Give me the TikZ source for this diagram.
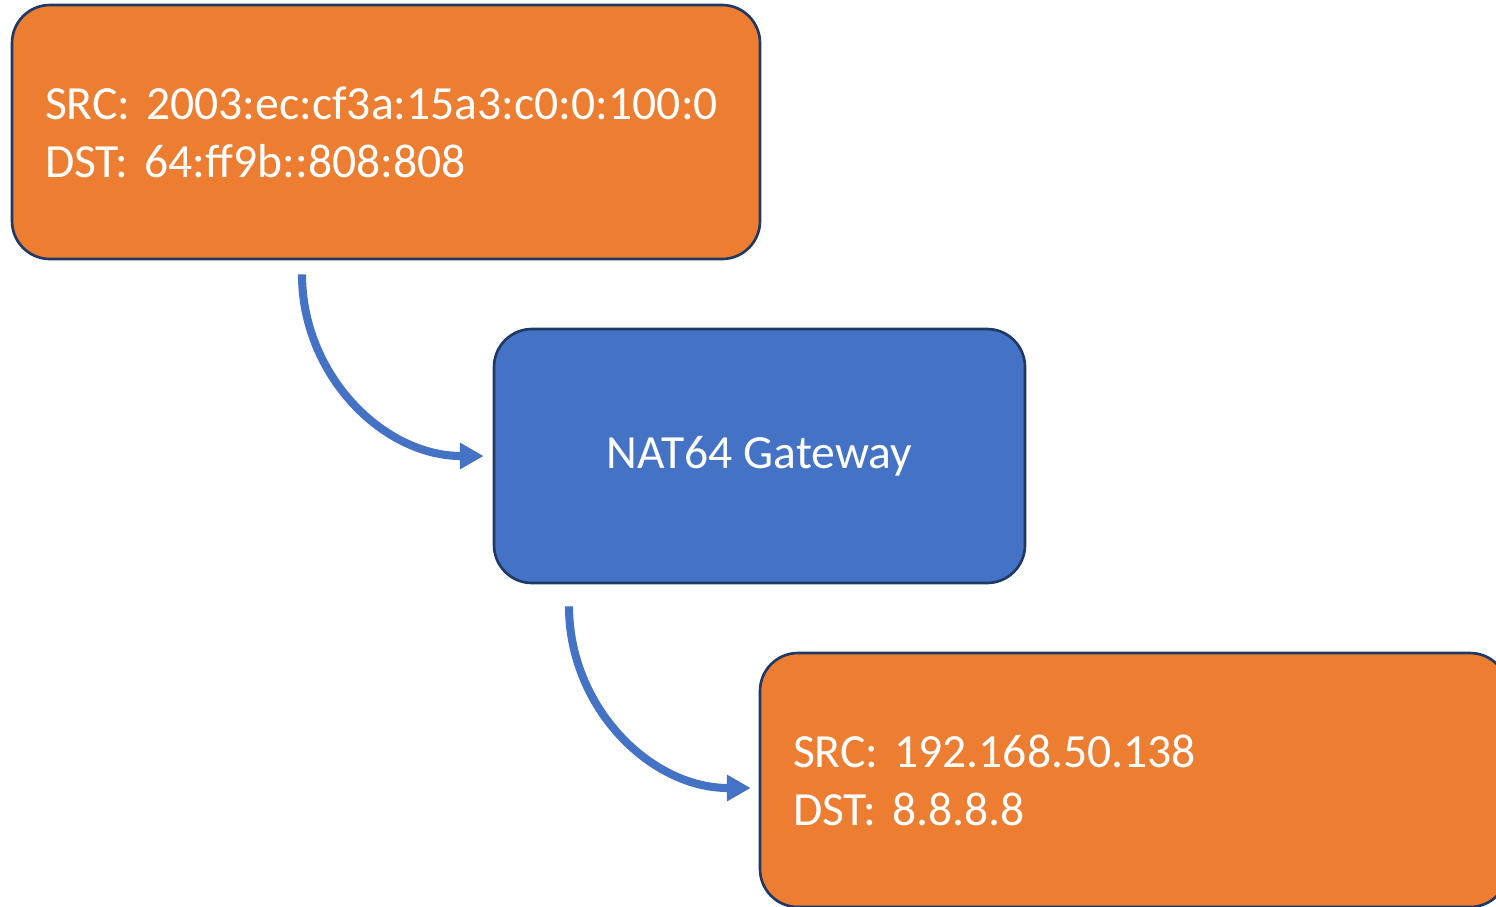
\documentclass[tikz,border=0pt]{standalone}
\usepackage{fontspec}
\setmainfont{Carlito}
\usetikzlibrary{arrows.meta}
\definecolor{boxorange}{HTML}{ED7D31}
\definecolor{boxblue}{HTML}{4472C4}
\definecolor{boxline}{HTML}{1F3864}
\frenchspacing
\begin{document}
\begin{tikzpicture}[
  >={Triangle[length=6.8pt,width=7.2pt]},
  box/.style={draw=boxline, line width=0.75pt, rounded corners=0.38cm,
    minimum height=2.54cm, text=white, font=\fontsize{13.55}{16.5}\selectfont},
  packet/.style={box, fill=boxorange, text width=6.82cm, inner xsep=0.33cm, align=left},
  flow/.style={->, draw=boxblue, line width=2.3pt}
]
  % Page size
  \useasboundingbox (0,0) rectangle (14.96,-9.06);
  \clip (0,0) rectangle (14.96,-9.06);

  % IPv6 packet, gateway, IPv4 packet
  \node[packet] (v6) at (3.86,-1.32) {SRC: 2003:ec:cf3a:15a3:c0:0:100:0\\DST: 64:ff9b::808:808};
  \node[box, fill=boxblue, minimum width=5.31cm] (gw) at (7.595,-4.56) {NAT64 Gateway};
  \node[packet] (v4) at (11.34,-7.80) {SRC: 192.168.50.138\\DST: 8.8.8.8};

  % Curved arrows
  \draw[flow] ([xshift=-0.84cm,yshift=-0.14cm]v6.south) to[out=-90,in=180] ([xshift=-0.09cm]gw.west);
  \draw[flow] ([xshift=-1.905cm,yshift=-0.22cm]gw.south) to[out=-90,in=180] ([xshift=-0.08cm,yshift=-0.08cm]v4.west);
\end{tikzpicture}
\end{document}
